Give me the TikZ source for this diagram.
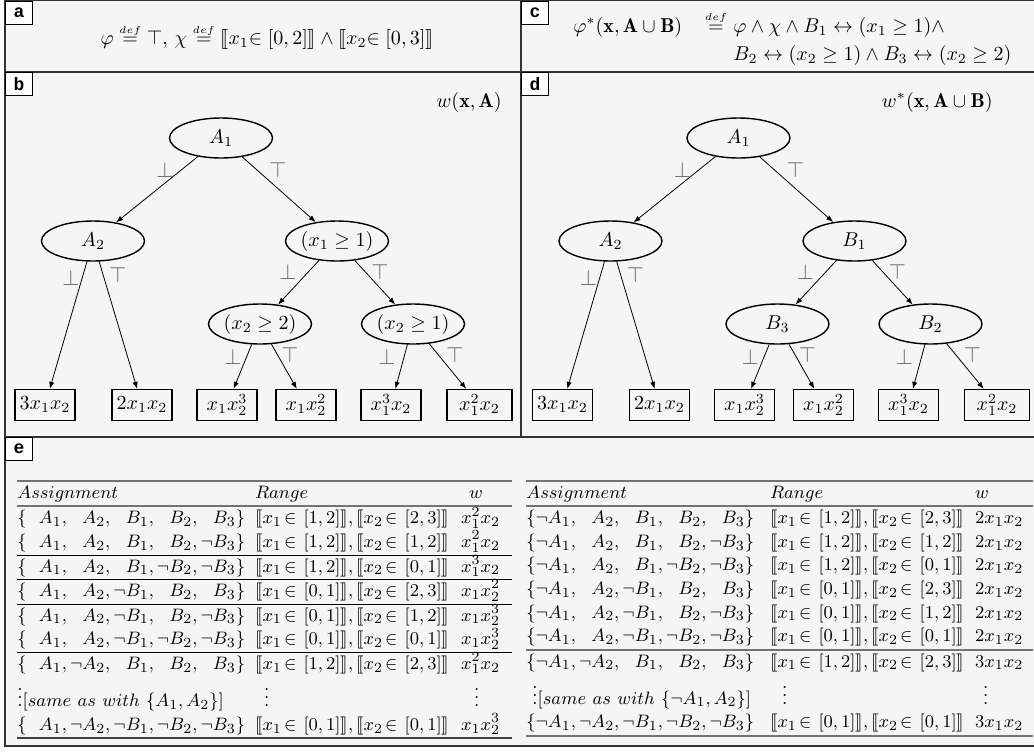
\documentclass[tikz,border=0pt]{standalone}
\usepackage{amsmath,amssymb}
\usepackage{stmaryrd}
\usepackage{fontspec}
\newfontfamily\tagfont{Liberation Mono}
\usetikzlibrary{shapes.geometric,arrows.meta}
\newcommand{\pn}{\phantom{\neg}}
\newcommand{\inn}{{\in}\;}
\newcommand{\tin}{\mkern2mu{\in}\mkern7mu}
\newcommand{\rng}[4]{\llbracket x_1\tin[#1,#2]\rrbracket,\llbracket x_2\tin[#3,#4]\rrbracket}
\newcommand{\greyrule}{\noalign{\begingroup\color{black!55}\hrule height 0.9pt\endgroup}}
\newcommand{\darkrule}{\noalign{\begingroup\color{black!75}\hrule height 0.8pt\endgroup}}
\newcommand{\dfeq}{\overset{\scriptscriptstyle def}{=}}
\newcommand{\drawtree}[6]{%
  \node[enode] (#1r) at (221,138) {#2};
  \node[enode] (#1l) at (93,241) {#3};
  \node[enode] (#1m) at (337,241) {#4};
  \node[enode] (#1ml) at (260,324) {#5};
  \node[enode] (#1mr) at (413,324) {#6};
  \node[leaf] (#1f1) at (45,405) {$3x_1x_2$};
  \node[leaf] (#1f2) at (142,405) {$2x_1x_2$};
  \node[leaf] (#1f3) at (227,405) {$x_1x_2^3$};
  \node[leaf] (#1f4) at (306,405) {$x_1x_2^2$};
  \node[leaf] (#1f5) at (391,405) {$x_1^3x_2$};
  \node[leaf, minimum width=32.5pt] (#1f6) at (479.5,405) {$x_1^2x_2$};
  \draw[arr] (#1r) -- (#1l);
  \draw[arr] (#1r) -- (#1m);
  \draw[arr] (#1l) -- (#1f1);
  \draw[arr] (#1l) -- (#1f2);
  \draw[arr] (#1m) -- (#1ml);
  \draw[arr] (#1m) -- (#1mr);
  \draw[arr] (#1ml) -- (#1f3);
  \draw[arr] (#1ml) -- (#1f4);
  \draw[arr] (#1mr) -- (#1f5);
  \draw[arr] (#1mr) -- (#1f6);
  \node[lab] (#1b1) at (165,170) {$\bot$};
  \node[lab] (#1t1) at (278,170) {$\top$};
  \node[lab] (#1b2) at (71,278) {$\bot$};
  \node[lab] (#1t2) at (118,275) {$\top$};
  \node[lab] (#1b3) at (288,272) {$\bot$};
  \node[lab] (#1t3) at (380,272) {$\top$};
  \node[lab] (#1b4) at (233,357) {$\bot$};
  \node[lab] (#1t4) at (290,355) {$\top$};
  \node[lab] (#1b5) at (387,357) {$\bot$};
  \node[lab] (#1t5) at (455,355) {$\top$};
}
\begin{document}
\begin{tikzpicture}[x=0.5pt,y=-0.5pt,
  panel/.style={draw=black!80, line width=0.75pt, fill=black!4},
  tag/.style={draw=black, line width=0.5pt, fill=white, minimum width=13.5pt, minimum height=11.5pt, inner sep=0pt, font=\tagfont\bfseries\fontsize{9}{9}\selectfont, anchor=north west},
  enode/.style={ellipse, draw, line width=0.7pt, minimum width=51.5pt, minimum height=20pt, inner sep=0pt},
  leaf/.style={draw, line width=0.65pt, minimum width=30pt, minimum height=15.5pt, inner sep=1pt},
  arr/.style={-{Latex[length=3.5pt,width=2.6pt]}, line width=0.4pt},
  lab/.style={text=black!62, inner sep=0pt, font=\fontsize{11}{13}\selectfont},
  txt/.style={inner sep=0pt},
  tbl/.style={inner sep=0pt, anchor=north west, font=\fontsize{9.3}{11.8}\selectfont}]
\useasboundingbox (0,0) rectangle (1034,751);
\fill[white] (0,0) rectangle (1034,751);
% panels
\draw[panel] (5,0.6) rectangle (521,72);
\draw[panel] (521,0.6) rectangle (1040,72);
\draw[panel] (5,72) rectangle (521,437);
\draw[panel] (521,72) rectangle (1040,437);
\draw[panel] (5,437) rectangle (1040,746);
\node[tag] (ta) at (5,0.6) {a};
\node[tag] (tc) at (521,0.6) {c};
\node[tag] (tb) at (5,72) {b};
\node[tag] (td) at (521,72) {d};
\node[tag] (te) at (5,437) {e};
% panel a
\node[txt] (fa) at (267,37) {$\varphi\dfeq\top,\,\chi\dfeq\llbracket x_1\inn[0,2]\rrbracket\wedge\llbracket x_2\inn[0,3]\rrbracket$};
% panel c
\node[txt, anchor=base west] (c1) at (573,32) {$\varphi^*(\mathbf{x},\mathbf{A}\cup\mathbf{B})$};
\node[txt, anchor=base] (c2) at (716,32) {$\dfeq$};
\node[txt, anchor=base west] (c3) at (733,32) {$\varphi\wedge\chi\wedge B_1\leftrightarrow(x_1\geq1)\wedge$};
\node[txt, anchor=base west] (c4) at (733,60) {$B_2\leftrightarrow(x_2\geq1)\wedge B_3\leftrightarrow(x_2\geq2)$};
% panel b
\node[txt, anchor=east] (wb) at (502,102) {$w(\mathbf{x},\mathbf{A})$};
\drawtree{b}{$A_1$}{$A_2$}{$(x_1\geq1)$}{$(x_2\geq2)$}{$(x_2\geq1)$}
% panel d
\node[txt, anchor=east] (wd) at (993,102) {$w^*(\mathbf{x},\mathbf{A}\cup\mathbf{B})$};
\begin{scope}[shift={(517.5,0)}]
\drawtree{d}{$A_1$}{$A_2$}{$B_1$}{$B_3$}{$B_2$}
\end{scope}
% panel e tables
\node[tbl] (tabL) at (17,479.5) {$\begin{array}{@{}l@{\hspace{5pt}}l@{\hspace{6pt}}l@{\hspace{6pt}}}
\greyrule
Assignment & Range & \hspace{4pt}w\\
\greyrule
\{\pn A_1,\pn A_2,\pn B_1,\pn B_2,\pn B_3\} & \rng1223 & x_1^2x_2\\
\{\pn A_1,\pn A_2,\pn B_1,\pn B_2,\neg B_3\} & \rng1212 & x_1^2x_2\\
\hline
\{\pn A_1,\pn A_2,\pn B_1,\neg B_2,\neg B_3\} & \rng1201 & x_1^3x_2\\
\hline
\{\pn A_1,\pn A_2,\neg B_1,\pn B_2,\pn B_3\} & \rng0123 & x_1x_2^2\\
\hline
\{\pn A_1,\pn A_2,\neg B_1,\pn B_2,\neg B_3\} & \rng0112 & x_1x_2^3\\
\{\pn A_1,\pn A_2,\neg B_1,\neg B_2,\neg B_3\} & \rng0101 & x_1x_2^3\\
\hline
\{\pn A_1,\neg A_2,\pn B_1,\pn B_2,\pn B_3\} & \rng1223 & x_1^2x_2\\
\vdots[same\ as\ with\ \{A_1,A_2\}] & \hspace{4.5pt}\vdots & \hspace{6.5pt}\vdots\\
\{\pn A_1,\neg A_2,\neg B_1,\neg B_2,\neg B_3\} & \rng0101 & x_1x_2^3\\
\darkrule
\end{array}$};
\node[tbl] (tabR) at (526,479.5) {$\begin{array}{@{}l@{\hspace{8pt}}l@{\hspace{5.5pt}}l@{\hspace{5pt}}}
\greyrule
Assignment & Range & w\\
\greyrule
\{\neg A_1,\pn A_2,\pn B_1,\pn B_2,\pn B_3\} & \rng1223 & 2x_1x_2\\
\{\neg A_1,\pn A_2,\pn B_1,\pn B_2,\neg B_3\} & \rng1212 & 2x_1x_2\\
\{\neg A_1,\pn A_2,\pn B_1,\neg B_2,\neg B_3\} & \rng1201 & 2x_1x_2\\
\{\neg A_1,\pn A_2,\neg B_1,\pn B_2,\pn B_3\} & \rng0123 & 2x_1x_2\\
\{\neg A_1,\pn A_2,\neg B_1,\pn B_2,\neg B_3\} & \rng0112 & 2x_1x_2\\
\{\neg A_1,\pn A_2,\neg B_1,\neg B_2,\neg B_3\} & \rng0101 & 2x_1x_2\\
\greyrule
\{\neg A_1,\neg A_2,\pn B_1,\pn B_2,\pn B_3\} & \rng1223 & 3x_1x_2\\
\hspace{3pt}\vdots[same\ as\ with\ \{\neg A_1,A_2\}] & \hspace{6pt}\vdots & \hspace{4pt}\vdots\\
\{\neg A_1,\neg A_2,\neg B_1,\neg B_2,\neg B_3\} & \rng0101 & 3x_1x_2\\
\greyrule
\end{array}$};
\end{tikzpicture}
\end{document}
